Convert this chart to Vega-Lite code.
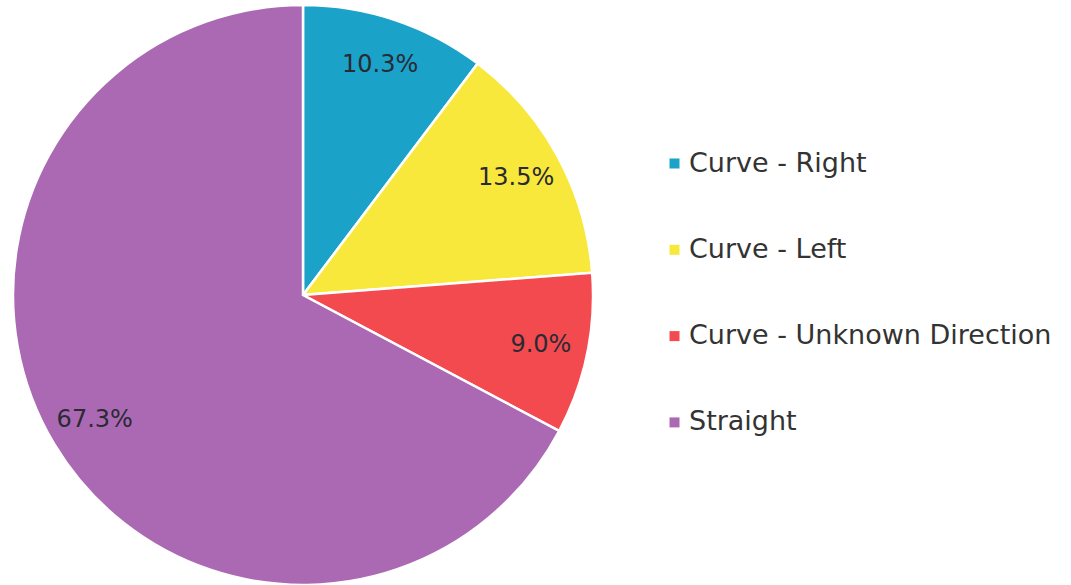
{
  "$schema": "https://vega.github.io/schema/vega-lite/v6.json",
  "width": 606,
  "height": 586,
  "padding": 0,
  "background": "white",
  "config": {"view": {"stroke": null}, "font": "DejaVu Sans"},
  "data": {"values": [
    {"category": "Curve - Right", "pct": 10.3, "label": "10.3%", "ord": 1},
    {"category": "Curve - Left", "pct": 13.5, "label": "13.5%", "ord": 2},
    {"category": "Curve - Unknown Direction", "pct": 9.0, "label": "9.0%", "ord": 3},
    {"category": "Straight", "pct": 67.3, "label": "67.3%", "ord": 4}
  ]},
  "encoding": {
    "theta": {"field": "pct", "type": "quantitative", "stack": true},
    "order": {"field": "ord", "type": "quantitative"}
  },
  "layer": [
    {
      "mark": {"type": "arc", "outerRadius": 290, "stroke": "white", "strokeWidth": 2.5},
      "encoding": {
        "color": {
          "field": "category", "type": "nominal",
          "sort": ["Curve - Right", "Curve - Left", "Curve - Unknown Direction", "Straight"],
          "scale": {
            "domain": ["Curve - Right", "Curve - Left", "Curve - Unknown Direction", "Straight"],
            "range": ["#1aa2c9", "#f8e83c", "#f34a50", "#ab69b4"]
          },
          "legend": {
            "title": null,
            "orient": "none",
            "legendX": 661,
            "legendY": 148,
            "symbolType": "square",
            "symbolSize": 100,
            "symbolStrokeWidth": 0,
            "labelFontSize": 27,
            "labelColor": "#333333",
            "labelFont": "DejaVu Sans",
            "labelOffset": 1,
            "rowPadding": 58.3,
            "labelLimit": 500
          }
        }
      }
    },
    {
      "mark": {"type": "text", "radius": 243, "fontSize": 24, "color": "#2a2a33", "font": "DejaVu Sans"},
      "encoding": {"text": {"field": "label"}}
    }
  ]
}
